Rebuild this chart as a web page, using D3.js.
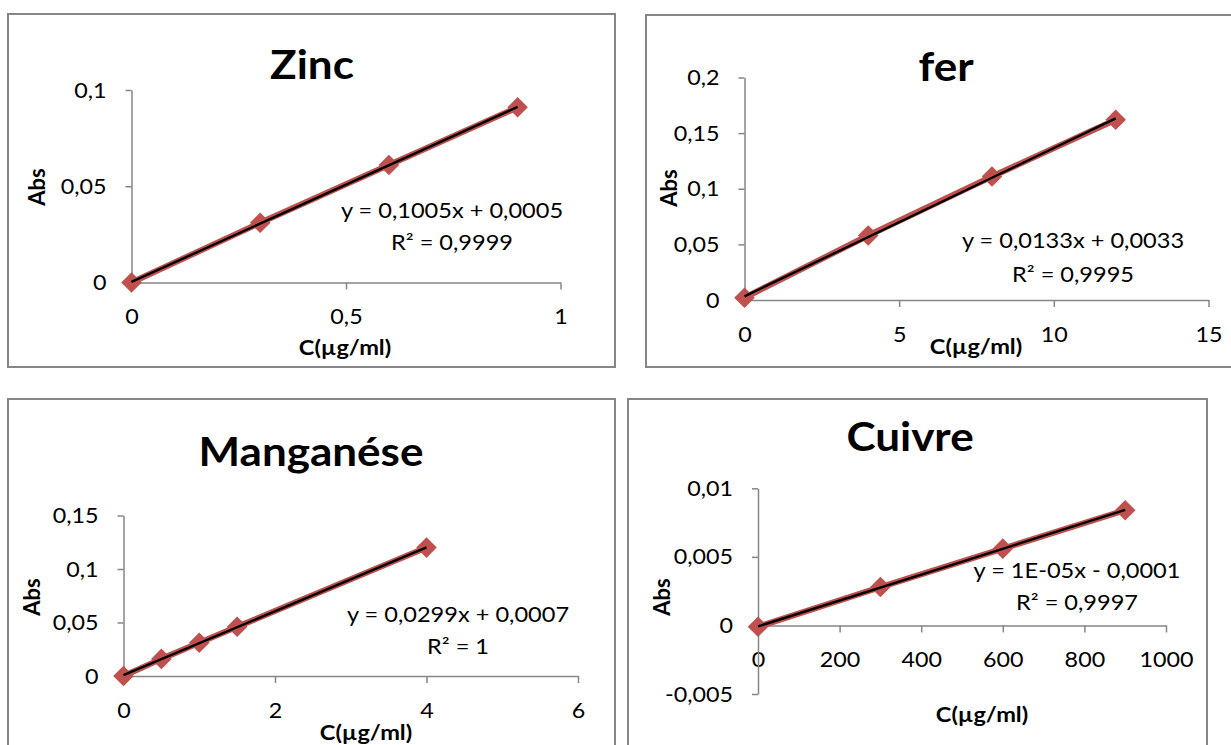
<!DOCTYPE html>
<html>
<head>
<meta charset="utf-8">
<script src="https://cdn.jsdelivr.net/npm/d3@7"></script>
<style>
  html, body { margin: 0; padding: 0; background: #ffffff; }
  svg { display: block; }
  text { font-family: Lato, "Open Sans", sans-serif; fill: #000; }
</style>
</head>
<body>
<svg id="chart" width="1231" height="745"></svg>
<script>
// Calibration data: concentration (µg/ml) and absorbance for each element
const zincConc = [0, 0.3, 0.6, 0.9];
const zincAbs  = [0, 0.031, 0.061, 0.091];
const ferConc  = [0, 4, 8, 12];
const ferAbs   = [0.002, 0.058, 0.111, 0.162];
const mnConc   = [0, 0.5, 1, 1.5, 4];
const mnAbs    = [0, 0.016, 0.031, 0.046, 0.120];
const cuConc   = [0, 300, 600, 900];
const cuAbs    = [-0.0001, 0.0028, 0.0056, 0.0084];

// Axis tick values
const zincTicksX = [0, 0.5, 1];
const zincTicksY = [0, 0.05, 0.1];
const ferTicksX  = [0, 5, 10, 15];
const ferTicksY  = [0, 0.05, 0.1, 0.15, 0.2];
const mnTicksX   = [0, 2, 4, 6];
const mnTicksY   = [0, 0.05, 0.1, 0.15];
const cuTicksX   = [0, 200, 400, 600, 800, 1000];
const cuTicksY   = [-0.005, 0, 0.005, 0.01];

// Titles and trendline annotations
const titles    = ["Zinc", "fer", "Manganése", "Cuivre"];
const equations = ["y = 0,1005x + 0,0005", "y = 0,0133x + 0,0033", "y = 0,0299x + 0,0007", "y = 1E-05x - 0,0001"];
const r2Labels  = ["R² = 0,9999", "R² = 0,9995", "R² = 1", "R² = 0,9997"];
const xTitle = "C(µg/ml)";
const yTitle = "Abs";

// French number formatting (comma decimal, hyphen minus)
const fr = d3.formatLocale({ decimal: ",", thousands: " ", grouping: [3], currency: ["", " €"], minus: "-" });
const fmt = fr.format("~g");

const svg = d3.select("#chart");
svg.append("rect").attr("width", 1231).attr("height", 745).attr("fill", "#fff");

const RED = "#c0504d";
const AXIS = "#868686";

// Layout of each panel: frame box, plot area, text anchors
const panels = [
  { conc: zincConc, abs: zincAbs, tx: zincTicksX, ty: zincTicksY,
    frame: [8, 14, 615, 367], plot: { x0: 131.5, x1: 560.5, y0: 282.5, y1: 90 },
    title: [312, 79], eq: [452, 218], r2: [452, 250], xt: [345, 355], yt: [45, 187] },
  { conc: ferConc, abs: ferAbs, tx: ferTicksX, ty: ferTicksY,
    frame: [646, 15, 1240, 367], plot: { x0: 744.5, x1: 1208.5, y0: 300, y1: 77.5 },
    title: [946, 81], eq: [1073, 248], r2: [1073, 282], xt: [976, 354], yt: [677, 188] },
  { conc: mnConc, abs: mnAbs, tx: mnTicksX, ty: mnTicksY,
    frame: [8, 399, 615, 760], plot: { x0: 123.5, x1: 578, y0: 676, y1: 515.5 },
    title: [311, 466], eq: [458, 622], r2: [458, 654], xt: [366, 740], yt: [40, 597] },
  { conc: cuConc, abs: cuAbs, tx: cuTicksX, ty: cuTicksY,
    frame: [628, 399, 1207, 760], plot: { x0: 758, x1: 1166, y0: 694, y1: 488.3 },
    title: [910, 451], eq: [1077, 578], r2: [1077, 610], xt: [982, 722], yt: [670, 597] }
];

// Least-squares linear fit
function linFit(xs, ys) {
  const mx = d3.mean(xs), my = d3.mean(ys);
  let sxy = 0, sxx = 0;
  xs.forEach((x, i) => { sxy += (x - mx) * (ys[i] - my); sxx += (x - mx) * (x - mx); });
  const m = sxy / sxx;
  return { m, b: my - m * mx };
}

// Text drawn slightly wide, as in the office chart style
function wideText(sel, x, y, sx) {
  return sel.attr("x", 0).attr("y", 0).attr("transform", `translate(${x},${y}) scale(${sx},1)`);
}

panels.forEach((p, i) => {
  const g = svg.append("g");
  const [fx0, fy0, fx1, fy1] = p.frame;
  g.append("rect")
    .attr("x", fx0).attr("y", fy0).attr("width", fx1 - fx0).attr("height", fy1 - fy0)
    .attr("fill", "#fff").attr("stroke", AXIS).attr("stroke-width", 2);

  const x = d3.scaleLinear().domain(d3.extent(p.tx)).range([p.plot.x0, p.plot.x1]);
  const y = d3.scaleLinear().domain(d3.extent(p.ty)).range([p.plot.y0, p.plot.y1]);

  // Y axis
  const ya = g.append("g").attr("transform", `translate(${p.plot.x0},0)`)
    .call(d3.axisLeft(y).tickValues(p.ty).tickFormat(fmt).tickSize(6).tickSizeOuter(0).tickPadding(19));
  // X axis sits on y = 0
  const xa = g.append("g").attr("transform", `translate(0,${y(0)})`)
    .call(d3.axisBottom(x).tickValues(p.tx).tickFormat(fmt).tickSize(7).tickSizeOuter(0).tickPadding(19));

  [ya, xa].forEach(a => {
    a.select(".domain").attr("stroke", AXIS).attr("stroke-width", 1.5);
    a.selectAll(".tick line").attr("stroke", AXIS).attr("stroke-width", 1.5);
    a.selectAll(".tick text").each(function () {
      const t = d3.select(this);
      const tx = +t.attr("x") || 0, ty = +t.attr("y") || 0;
      wideText(t, tx, ty, 1.06);
    }).attr("font-size", 22).attr("font-family", "Lato").attr("fill", "#000");
  });
  ya.raise();

  // Series line through the measured points
  const pts = p.conc.map((c, k) => [c, p.abs[k]]);
  g.append("path")
    .attr("d", d3.line().x(d => x(d[0])).y(d => y(d[1]))(pts))
    .attr("fill", "none").attr("stroke", RED).attr("stroke-width", 6).attr("stroke-linejoin", "round");

  // Diamond markers
  const diamond = d3.symbol().type(d3.symbolDiamond2).size(270);
  g.selectAll("path.mk").data(pts).join("path").attr("class", "mk")
    .attr("d", diamond)
    .attr("transform", d => `translate(${x(d[0])},${y(d[1])})`)
    .attr("fill", RED);

  // Linear trendline
  const fit = linFit(p.conc, p.abs);
  const [cmin, cmax] = d3.extent(p.conc);
  g.append("line")
    .attr("x1", x(cmin)).attr("y1", y(fit.m * cmin + fit.b))
    .attr("x2", x(cmax)).attr("y2", y(fit.m * cmax + fit.b))
    .attr("stroke", "#000").attr("stroke-width", 2.4);

  // Texts
  wideText(g.append("text"), p.title[0], p.title[1], 1.1).attr("text-anchor", "middle")
    .attr("font-size", 40).attr("font-weight", 700).text(titles[i]);
  wideText(g.append("text"), p.eq[0], p.eq[1], 1.15).attr("text-anchor", "middle")
    .attr("font-size", 20.5).text(equations[i]);
  wideText(g.append("text"), p.r2[0], p.r2[1], 1.15).attr("text-anchor", "middle")
    .attr("font-size", 20.5).text(r2Labels[i]);
  wideText(g.append("text"), p.xt[0], p.xt[1], 1.15).attr("text-anchor", "middle")
    .attr("font-size", 20.5).attr("font-weight", 700).text(xTitle);
  g.append("text").attr("transform", `translate(${p.yt[0]},${p.yt[1]}) rotate(-90)`)
    .attr("text-anchor", "middle").attr("font-size", 22).attr("font-weight", 700).text(yTitle);
});
</script>
</body>
</html>
